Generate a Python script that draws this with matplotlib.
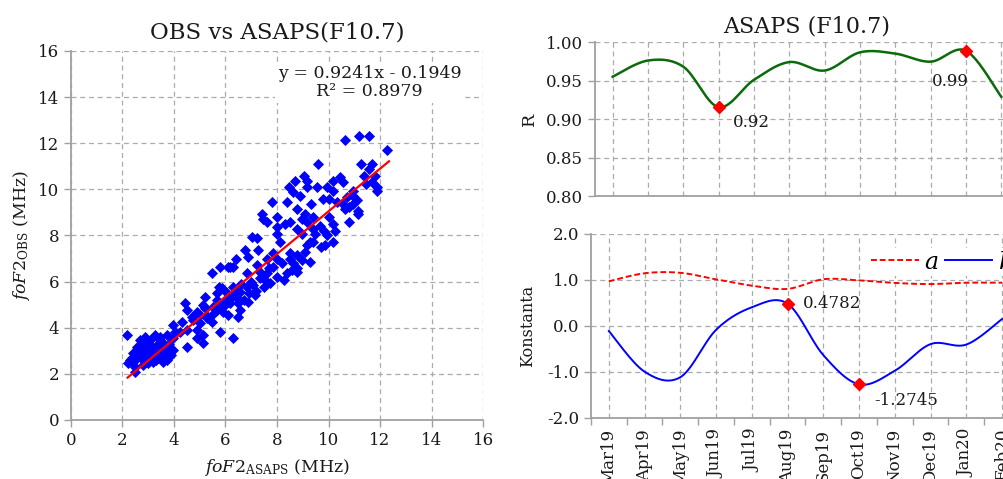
import numpy as np
import matplotlib
matplotlib.use("Agg")
import matplotlib.pyplot as plt
from matplotlib.ticker import MultipleLocator, FixedLocator, FormatStrFormatter

plt.rcParams['font.family'] = ['DejaVu Serif']
plt.rcParams['mathtext.fontset'] = 'dejavuserif'

# ---------------- data ----------------
asaps_x = [10.63, 11.19, 11.58, 12.28, 9.59, 11.27, 11.68, 11.58, 11.36, 11.79, 11.45, 11.68, 11.88, 11.88,
           9.05, 8.68, 9.15, 10.45, 10.16, 10.58, 8.45, 9.57, 9.15, 9.93, 10.19, 8.64, 8.9, 10.97, 10.97, 10.71,
           9.78, 10.0, 11.1, 7.8, 8.39, 9.32, 10.32, 10.58, 10.78, 10.97, 8.77, 10.65, 11.16, 11.16, 7.41, 7.47,
           8.0, 9.09, 9.41, 8.96, 10.0, 7.6, 8.3, 8.5, 9.15, 10.78, 9.68, 10.19, 8.0, 8.77, 9.41, 9.81, 10.26,
           7.02, 7.22, 8.0, 8.96, 9.48, 9.93,
           9.29, 9.87, 10.19, 9.7, 6.76, 7.28, 8.12, 8.51, 8.77, 9.15, 8.96, 9.29, 8.64, 7.86, 7.6, 6.41, 6.89,
           7.21, 7.34, 6.83, 6.11, 6.31, 7.34, 7.6, 8.0, 8.38, 8.26, 8.77, 8.77, 7.86, 7.08, 7.73, 7.49, 6.83,
           7.15, 6.57, 6.89, 6.31, 6.44, 6.05, 5.73, 5.85, 5.66, 6.31, 6.18, 6.5, 6.57, 5.98, 5.92, 6.11, 5.66,
           5.53, 5.14, 5.47, 5.79, 6.18, 5.2, 5.2, 4.88, 5.01, 5.27, 5.66, 5.47, 5.01, 4.75, 4.69, 6.5, 5.79,
           6.31, 4.43, 4.49, 4.3, 4.49, 4.49, 4.88, 4.88, 5.14, 5.14, 3.98, 4.04, 4.24, 3.72, 3.98, 3.46, 3.59,
           3.78, 3.98, 3.78, 3.59, 3.39, 3.59, 3.46, 3.26, 3.07, 2.88, 2.75, 2.68, 2.62, 2.94, 3.14, 3.33, 3.01,
           3.2, 2.81, 2.55, 2.42, 2.36, 2.23, 2.49, 2.81, 3.01, 3.2, 2.16, 2.29, 2.68, 2.55, 2.42, 2.81, 2.49,
           3.39, 3.72, 3.53,
           2.7, 2.9, 3.1, 3.3, 2.6, 3.0, 3.5, 3.6, 3.8, 3.9,
           6.2, 6.4, 6.6, 6.9, 7.0, 7.2, 7.4, 7.6, 6.7, 6.0, 5.8, 5.5, 5.3,
           8.2, 8.5, 8.6, 8.0, 7.7, 9.1, 9.4]
obs_y = [12.15, 12.30, 12.30, 11.69, 11.11, 11.11, 11.11, 10.89, 10.60, 10.60, 10.24, 10.31, 10.10, 9.95,
         10.6, 10.38, 10.38, 10.53, 10.38, 10.31, 10.1, 10.12, 10.1, 10.1, 9.95, 9.88, 9.73, 9.95, 9.73, 9.66,
         9.59, 9.59, 9.52, 9.44, 9.44, 9.37, 9.44, 9.37, 9.23, 9.37, 9.15, 9.15, 9.08, 8.94, 8.94, 8.72,
         8.79, 8.94, 8.79, 8.72, 8.79, 8.58, 8.5, 8.58, 8.58, 8.58, 8.43, 8.5, 8.36, 8.29, 8.29, 8.21, 8.21,
         7.92, 7.9, 8.07, 8.07, 8.07, 8.0,
         7.73, 7.59, 7.73, 7.5, 7.37, 7.37, 7.73, 7.23, 7.15, 7.59, 6.94, 6.86, 6.79, 7.23, 7.0, 7.0, 7.08,
         6.72, 6.43, 6.36, 6.65, 6.65, 6.14, 6.36, 6.21, 6.36, 6.07, 6.58, 6.43, 6.65, 5.85, 5.92, 5.78, 5.78,
         5.42, 5.56, 5.13, 5.42, 5.27, 5.49, 5.78, 5.71, 5.49, 5.78, 5.06, 5.06, 4.77, 4.99, 4.7, 4.55, 5.2,
         4.91, 4.99, 6.36, 6.65, 6.65, 5.35, 4.84, 4.7, 4.55, 4.41, 4.77, 4.26, 4.19, 4.34, 4.48, 4.48, 3.83,
         3.54, 5.06, 4.77, 4.26, 3.9, 3.18, 3.9, 3.54, 3.68, 3.32, 4.12, 3.83, 3.83, 3.68, 3.54, 3.47, 3.32,
         3.18, 3.03, 2.89, 2.96, 2.75, 2.53, 3.61, 3.68, 3.47, 3.61, 3.32, 3.11, 2.89, 3.18, 3.18, 3.25, 2.82,
         2.75, 2.67, 2.67, 2.53, 2.67, 2.46, 2.31, 2.38, 2.46, 2.53, 3.68, 2.6, 3.47, 3.18, 2.89, 2.89, 2.09,
         3.03, 2.6, 2.82,
         2.7, 2.5, 2.9, 2.6, 3.0, 3.3, 3.0, 2.8, 3.3, 2.8,
         5.3, 5.6, 5.9, 5.5, 6.0, 5.6, 6.2, 6.0, 5.2, 5.2, 5.0, 4.6, 4.5,
         6.8, 7.0, 6.5, 7.0, 6.6, 7.3, 7.7]
fit_slope = 0.9241
fit_intercept = -0.1949
fit_r2 = 0.8979
fit_range = [2.2, 12.35]

months = ['Mar19', 'Apr19', 'May19', 'Jun19', 'Jul19', 'Aug19', 'Sep19', 'Oct19',
          'Nov19', 'Dec19', 'Jan20', 'Feb20']
R_vals = [0.955, 0.976, 0.968, 0.9156, 0.951, 0.974, 0.963, 0.9866, 0.985, 0.9745, 0.9887, 0.929]
a_vals = [0.964, 1.14, 1.15, 1.007, 0.87, 0.80, 1.01, 0.985, 0.93, 0.905, 0.935, 0.935]
b_vals = [-0.116, -1.0, -1.12, -0.09, 0.40, 0.4782, -0.64, -1.2745, -0.98, -0.40, -0.41, 0.145]

# ---------------- helpers ----------------
GRID = dict(color='#ababab', linestyle=(0, (4, 3)), linewidth=0.9)
SPINE = '#a0a0a0'
TXT = '#1a1a1a'


def smooth(xs, ys, n=30):
    x = np.asarray(xs, float)
    y = np.asarray(ys, float)
    px = np.concatenate([[x[0]], x, [x[-1]]])
    py = np.concatenate([[y[0]], y, [y[-1]]])
    t = np.linspace(0, 1, n)
    outx, outy = [], []
    for i in range(1, len(px) - 2):
        p0x, p1x, p2x, p3x = px[i - 1], px[i], px[i + 1], px[i + 2]
        p0y, p1y, p2y, p3y = py[i - 1], py[i], py[i + 1], py[i + 2]
        c1x, c1y = p1x + (p2x - p0x) / 6, p1y + (p2y - p0y) / 6
        c2x, c2y = p2x - (p3x - p1x) / 6, p2y - (p3y - p1y) / 6
        bx = (1 - t) ** 3 * p1x + 3 * (1 - t) ** 2 * t * c1x + 3 * (1 - t) * t ** 2 * c2x + t ** 3 * p2x
        by = (1 - t) ** 3 * p1y + 3 * (1 - t) ** 2 * t * c1y + 3 * (1 - t) * t ** 2 * c2y + t ** 3 * p2y
        outx.append(bx)
        outy.append(by)
    return np.concatenate(outx), np.concatenate(outy)


def style_axes(ax):
    for s in ['top', 'right']:
        ax.spines[s].set_visible(False)
    for s in ['left', 'bottom']:
        ax.spines[s].set_color(SPINE)
        ax.spines[s].set_linewidth(1.3)
    ax.tick_params(which='both', colors=SPINE, labelcolor=TXT, labelsize=12, direction='out', length=5, width=1)


fig = plt.figure(figsize=(10.04, 4.79), dpi=100)

# ---------------- left: scatter ----------------
ax1 = fig.add_axes([0.0707, 0.1232, 0.4104, 0.7704])
style_axes(ax1)
ax1.set_xlim(0, 16)
ax1.set_ylim(0, 16)
ax1.xaxis.set_major_locator(MultipleLocator(2))
ax1.yaxis.set_major_locator(MultipleLocator(2))
ax1.grid(True, **GRID)
ax1.set_axisbelow(True)
ax1.scatter(asaps_x, obs_y, marker='D', s=32, color='#0000ff', linewidths=0, zorder=3)
fx = np.array(fit_range)
ax1.plot(fx, fit_slope * fx + fit_intercept, color='#ff0000', lw=1.6, zorder=4)
ax1.text(11.6, 14.62, f'y = {fit_slope}x - {abs(fit_intercept)}\nR² = {fit_r2}', ha='center', va='center',
         fontsize=12.5, color=TXT, linespacing=1.05,
         bbox=dict(facecolor='white', edgecolor='none', pad=2), zorder=5)
ax1.set_title('OBS vs ASAPS(F10.7)', fontsize=16.5, color=TXT, pad=9)
ax1.set_xlabel(r'$\mathit{foF2}_{\mathrm{ASAPS}}$ (MHz)', fontsize=12.5, color=TXT, labelpad=6)
ax1.set_ylabel(r'$\mathit{foF2}_{\mathrm{OBS}}$ (MHz)', fontsize=12.5, color=TXT, labelpad=4)

# ---------------- right top: R ----------------
xi = np.arange(len(months))
ax2 = fig.add_axes([0.5926, 0.5902, 0.4223, 0.3221])
style_axes(ax2)
ax2.set_xlim(-0.5, len(months) - 0.5)
ax2.set_ylim(0.80, 1.00)
ax2.yaxis.set_major_locator(MultipleLocator(0.05))
ax2.yaxis.set_major_formatter(FormatStrFormatter('%.2f'))
ax2.xaxis.set_major_locator(FixedLocator(xi))
ax2.tick_params(axis='x', length=0, labelbottom=False)
ax2.grid(True, **GRID)
ax2.set_axisbelow(True)
sx, sy = smooth(xi, R_vals)
ax2.plot(sx, sy, color='#0b6b0b', lw=1.8, zorder=3)
i_min = int(np.argmin(R_vals))
i_max = int(np.argmax(R_vals))
ax2.plot([i_min, i_max], [R_vals[i_min], R_vals[i_max]], 'D', color='#ff0000', ms=6, zorder=4)
ax2.annotate(f'{R_vals[i_min]:.2f}', (i_min, R_vals[i_min]), xytext=(10, -11), textcoords='offset points',
             ha='left', va='center', fontsize=12, color=TXT)
ax2.annotate(f'{R_vals[i_max]:.2f}', (i_max, R_vals[i_max]), xytext=(2, -22), textcoords='offset points',
             ha='right', va='center', fontsize=12, color=TXT)
ax2.set_title('ASAPS (F10.7)', fontsize=16, color=TXT, pad=7)
ax2.set_ylabel('R', fontsize=12.5, color=TXT, labelpad=6)

# ---------------- right bottom: a, b ----------------
ax3 = fig.add_axes([0.5886, 0.128, 0.4273, 0.3841])
style_axes(ax3)
ax3.set_xlim(-0.5, len(months) - 0.5)
ax3.set_ylim(-2.0, 2.0)
ax3.yaxis.set_major_locator(MultipleLocator(1.0))
ax3.yaxis.set_major_formatter(FormatStrFormatter('%.1f'))
ax3.xaxis.set_major_locator(FixedLocator(xi))
ax3.xaxis.set_minor_locator(FixedLocator(np.arange(len(months) + 1) - 0.5))
ax3.set_xticklabels(months, rotation=90, fontsize=12)
ax3.tick_params(axis='x', which='major', length=0, pad=8)
ax3.tick_params(axis='x', which='minor', length=5)
ax3.grid(True, which='major', **GRID)
ax3.set_axisbelow(True)
ax_, ay_ = smooth(xi, a_vals)
bx_, by_ = smooth(xi, b_vals)
ax3.plot(ax_, ay_, color='#ff0000', lw=1.4, linestyle=(0, (3, 1.5)), label='$a$', zorder=3)
ax3.plot(bx_, by_, color='#0000ff', lw=1.4, label='$b$', zorder=3)
j_max = int(np.argmax(b_vals))
j_min = int(np.argmin(b_vals))
ax3.plot([j_max, j_min], [b_vals[j_max], b_vals[j_min]], 'D', color='#ff0000', ms=6, zorder=4)
ax3.annotate(f'{b_vals[j_max]}', (j_max, b_vals[j_max]), xytext=(11, 0), textcoords='offset points',
             ha='left', va='center', fontsize=12, color=TXT)
ax3.annotate(f'{b_vals[j_min]}', (j_min, b_vals[j_min]), xytext=(11, -12), textcoords='offset points',
             ha='left', va='center', fontsize=12, color=TXT)
ax3.set_ylabel('Konstanta', fontsize=11.5, color=TXT, labelpad=8)
leg = ax3.legend(loc='center left', bbox_to_anchor=(0.648, 0.846), ncol=2, frameon=True, fontsize=17,
                 handlelength=2.0, handletextpad=0.25, columnspacing=0.25, borderpad=0.1,
                 borderaxespad=0)
leg.get_frame().set_facecolor('white')
leg.get_frame().set_edgecolor('none')
leg.get_frame().set_alpha(1)

fig.savefig('out.png', dpi=100)
